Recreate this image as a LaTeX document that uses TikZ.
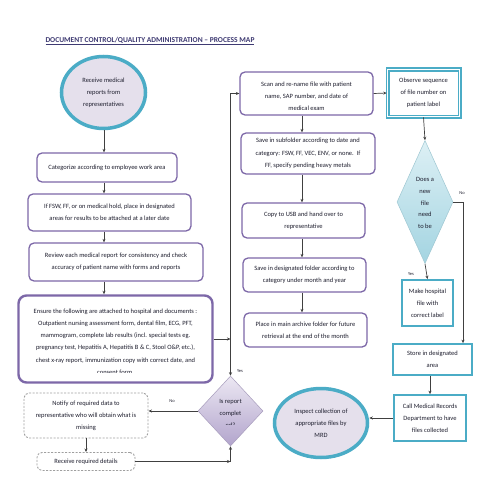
\documentclass[tikz,border=0pt]{standalone}
\usepackage{fontspec}
\setmainfont{Carlito}
\usetikzlibrary{shapes.geometric,arrows.meta}
\definecolor{purp}{HTML}{7D68A8}
\definecolor{tealc}{HTML}{4BACC6}
\definecolor{lav}{HTML}{E5E0EC}
\definecolor{lavA}{HTML}{ECE8F3}
\definecolor{lavB}{HTML}{B2A4CC}
\definecolor{tqA}{HTML}{DDF0F5}
\definecolor{tqB}{HTML}{A3D4E1}
\definecolor{txtc}{HTML}{1E1E2E}
\definecolor{titc}{HTML}{3E3A72}
\definecolor{linec}{HTML}{404040}
\newcommand\fs{\fontsize{6.5}{12.2}\selectfont}
\newcommand\fsd{\fontsize{6.5}{11.7}\selectfont}
\begin{document}
\begin{tikzpicture}[x=1pt,y=-1pt,
  pbox/.style={draw=purp, line width=1.3pt, rounded corners=5pt, fill=white, inner sep=0pt},
  tbox/.style={draw=tealc, line width=1.7pt, fill=white, inner sep=0pt},
  dbox/.style={draw=gray!75, dashed, dash pattern=on 2pt off 1.5pt, line width=0.9pt, rounded corners=5pt, fill=white, inner sep=0pt},
  txt/.style={align=center, font=\fs, text=txtc, inner sep=0pt},
  arr/.style={-{Stealth[length=3.5pt,width=3pt]}, line width=0.7pt, draw=linec},
  ln/.style={line width=0.7pt, draw=linec},
  lab/.style={font=\fontsize{4.5}{5}\selectfont, text=txtc, inner sep=0pt}]
\fill[white] (0,0) rectangle (495,495);
\useasboundingbox (0,0) rectangle (495,495);

% title
\node[font=\bfseries\fontsize{7.5}{9}\selectfont, text=titc, inner sep=0pt] (title) at (150,41)
  {\underline{DOCUMENT CONTROL/QUALITY ADMINISTRATION – PROCESS MAP}};

% left column shapes
\node[ellipse, draw=tealc, line width=3.5pt, fill=lav, minimum width=84pt, minimum height=72pt, inner sep=0pt] (rec) at (103.5,92.5) {};
\node[txt] (recT) at (rec.center) {Receive medical\\reports from\\representatives};

\node[pbox, minimum width=140pt, minimum height=29pt] (cat) at (107,167.5) {};
\node[txt] (catT) at (cat.center) {Categorize according to employee work area};

\node[pbox, minimum width=163pt, minimum height=37pt] (fsw) at (109.5,212.5) {};
\node[txt] (fswT) at (fsw.center) {If FSW, FF, or on medical hold, place in designated\\areas for results to be attached at a later date};

\node[pbox, minimum width=174pt, minimum height=38pt] (rev) at (116,262) {};
\node[txt] (revT) at (rev.center) {Review each medical report for consistency and check\\accuracy of patient name with forms and reports};

\node[pbox, line width=2.4pt, rounded corners=8pt, minimum width=194pt, minimum height=87pt] (ens) at (115.5,339) {};
\begin{scope}
\clip (20,297) rectangle (212,372);
\node[txt] (ensT) at (115.5,341.5) {Ensure the following are attached to hospital and documents :\\Outpatient nursing assessment form, dental film, ECG, PFT,\\mammogram, complete lab results (incl. special tests eg.\\pregnancy test, Hepatitis A, Hepatitis B \& C, Stool O\&P, etc.),\\chest x-ray report, immunization copy with correct date, and\\consent form.};
\end{scope}

\node[diamond, top color=lavA, bottom color=lavB, draw=lavB!80!gray, line width=0.5pt, minimum width=65pt, minimum height=70pt, inner sep=0pt] (isr) at (230.5,411) {};
\begin{scope}
\clip (200,390) rectangle (262,424);
\node[txt] (isrT) at (230.5,413.5) {Is report\\complet\\ed?};
\end{scope}

\node[dbox, minimum width=124pt, minimum height=45pt] (notify) at (86,415.5) {};
\node[txt] (notifyT) at (notify.center) {Notify of required data to\\representative who will obtain what is\\missing};

\node[dbox, minimum width=98pt, minimum height=18pt] (recv) at (86,461.5) {};
\node[txt] (recvT) at (recv.center) {Receive required details};

% middle column
\node[pbox, minimum width=133pt, minimum height=43pt] (scan) at (306.5,93.5) {};
\begin{scope}
\clip (242,73) rectangle (372,109.5);
\node[txt] (scanT) at (306.5,96.5) {Scan and re-name file with patient\\name, SAP number, and date of\\medical exam};
\end{scope}

\node[pbox, minimum width=134pt, minimum height=41pt] (sub) at (308,153.5) {};
\node[txt] (subT) at (sub.center) {Save in subfolder according to date and\\category: FSW, FF, VEC, ENV, or none.\ \ If\\FF, specify pending heavy metals};

\node[pbox, minimum width=123pt, minimum height=35pt] (usb) at (303.5,220.5) {};
\node[txt] (usbT) at (usb.center) {Copy to USB and hand over to\\representative};

\node[pbox, minimum width=123pt, minimum height=34pt] (desig) at (304.5,275) {};
\node[txt] (desigT) at (desig.center) {Save in designated folder according to\\category under month and year};

\node[pbox, minimum width=123pt, minimum height=34pt] (arch) at (305.5,330) {};
\node[txt] (archT) at (arch.center) {Place in main archive folder for future\\retrieval at the end of the month};

\node[ellipse, draw=tealc, line width=3.5pt, fill=lav, minimum width=93pt, minimum height=69pt, inner sep=0pt] (insp) at (321,423) {};
\node[txt] (inspT) at (insp.center) {Inspect collection of\\appropriate files by\\MRD};

% right column
\node[draw=tealc, double=white, double distance=0.8pt, line width=1.6pt, fill=white, minimum width=72pt, minimum height=47pt, inner sep=0pt] (obs) at (423.5,93) {};
\node[txt] (obsT) at (obs.center) {Observe sequence\\of file number on\\patient label};

\node[diamond, top color=tqA, bottom color=tqB, draw=tqB!85!gray, line width=0.5pt, minimum width=56pt, minimum height=123pt, inner sep=0pt] (new) at (425,202) {};
\node[txt, font=\fsd] (newT) at (425,203) {Does a\\new\\file\\need\\to be};

\node[tbox, minimum width=51pt, minimum height=46pt] (make) at (427.5,303) {};
\node[txt] (makeT) at (make.center) {Make hospital\\file with\\correct label};

\node[tbox, minimum width=79pt, minimum height=31pt] (store) at (432.5,359.5) {};
\node[txt] (storeT) at (store.center) {Store in designated\\area};

\node[tbox, minimum width=72pt, minimum height=46pt] (call) at (430,418) {};
\node[txt] (callT) at (call.center) {Call Medical Records\\Department to have\\files collected};

% connectors: left column
\coordinate (sx) at (104,0);
\draw[arr] (sx |- rec.south) -- (sx |- cat.north);
\draw[arr] (sx |- cat.south) -- (sx |- fsw.north);
\draw[arr] (sx |- fsw.south) -- (sx |- rev.north);
\draw[arr] (sx |- rev.south) -- (sx |- ens.north);

\coordinate (tj) at (ens.east -| isr.north);
\draw[arr] (ens.east) -- (tj);
\draw[arr] (tj) -- (isr.north);
\draw[arr] (tj) -- (isr.north |- scan.west) -- (scan.west);
\node[lab] (yes1) at (240,371) {Yes};

\draw[arr] (isr.west) -- (notify.east |- isr.west);
\node[lab] (no1) at (172,401) {No};
\draw[arr] (notify.south) -- (recv.north);
\coordinate (bj) at (recv.east -| isr.south);
\draw[arr] (recv.east) -- (bj);
\draw[arr] (bj) -- (isr.south);

% middle column
\coordinate (rx) at (302,0);
\draw[arr] (rx |- scan.south) -- (rx |- sub.north);
\draw[arr] (rx |- sub.south) -- (rx |- usb.north);
\draw[arr] (rx |- usb.south) -- (rx |- desig.north);
\draw[arr] (rx |- desig.south) -- (rx |- arch.north);

% right column
\draw[arr] (scan.east) -- (obs.west);
\draw[arr] (obs.south) -- (new.north);
\coordinate (nx) at (463,0);
\draw[arr] (new.east) -- (nx |- new.east) -- (nx |- store.north);
\node[lab] (no2) at (462,193) {No};
\draw[arr] (new.south) -- (make.north);
\node[lab] (yes2) at (411,274) {Yes};
\draw[arr] (call.north |- store.south) -- (call.north);
\draw[arr] (call.west) -- (insp.east |- call.west);
\end{tikzpicture}
\end{document}
